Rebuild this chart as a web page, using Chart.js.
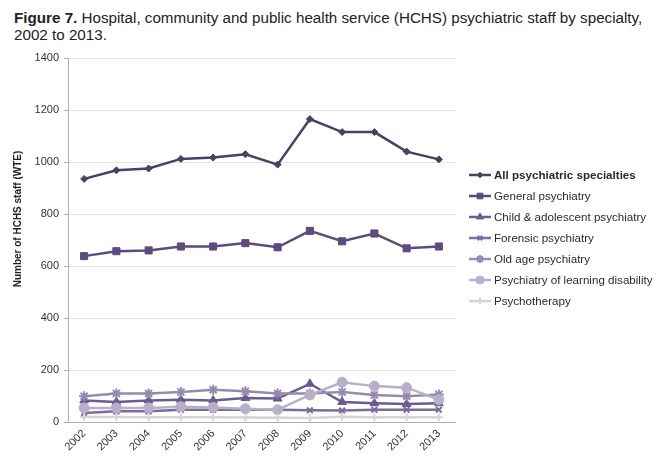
<!DOCTYPE html>
<html lang="en">
<head>
<meta charset="UTF-8">
<title>Figure 7</title>
<script src="https://cdn.jsdelivr.net/npm/chart.js"></script>
<style>
    body { margin: 0; background: #fff; }
    #wrap { position: relative; width: 660px; height: 464px; }
    #titulo {
        position: absolute;
        left: 14px;
        top: 9px;
        width: 640px;
        font-family: "Liberation Sans", Arial, sans-serif;
        font-size: 15.2px;
        line-height: 17px;
        color: #222;
    }
    canvas { position: absolute; left: 0; top: 0; }
</style>
</head>
<body>
<div id="wrap">
    <div id="titulo"><b>Figure 7.</b> Hospital, community and public health service (HCHS) psychiatric staff by specialty, 2002 to 2013.</div>
    <canvas id="grafico" width="660" height="464"></canvas>
</div>
<script>
const years = ['2002', '2003', '2004', '2005', '2006', '2007', '2008', '2009', '2010', '2011', '2012', '2013'];
const seriesNames = [
    'All psychiatric specialties',
    'General psychiatry',
    'Child & adolescent psychiatry',
    'Forensic psychiatry',
    'Old age psychiatry',
    'Psychiatry of learning disability',
    'Psychotherapy'
];
const allPsych     = [935, 968, 975, 1012, 1017, 1030, 990, 1165, 1115, 1115, 1040, 1010];
const general      = [638, 657, 660, 675, 675, 688, 672, 735, 695, 725, 668, 675];
const childAdol    = [83, 77, 83, 86, 83, 92, 90, 147, 77, 72, 69, 72];
const forensic     = [35, 41, 41, 47, 47, 47, 47, 45, 44, 47, 47, 47];
const oldAge       = [99, 110, 110, 115, 124, 118, 110, 110, 115, 104, 99, 106];
const learningDis  = [54, 54, 54, 59, 56, 51, 47, 104, 153, 138, 132, 86];
const psychotherapy = [19, 19, 18, 18, 18, 17, 16, 15, 20, 18, 18, 18];
const yTicks = [0, 200, 400, 600, 800, 1000, 1200, 1400];
const yTitle = 'Number of HCHS staff (WTE)';

const valores = [allPsych, general, childAdol, forensic, oldAge, learningDis, psychotherapy];
const colores = ['#4b3f64', '#5c4b7c', '#6b5b90', '#7b6d9b', '#958cad', '#b7b0c8', '#d6d2de'];
const marcas = ['rectRot', 'rect', 'triangle', 'crossRot', 'star', 'circle', 'cross'];
const radios = [3.5, 5, 5, 4, 5, 5, 4];

const fuente = '"Liberation Sans", Arial, sans-serif';

const datasets = valores.map((v, i) => ({
    label: seriesNames[i],
    data: v,
    borderColor: colores[i],
    backgroundColor: colores[i],
    borderWidth: 2.5,
    pointStyle: marcas[i],
    pointRadius: radios[i],
    pointBorderWidth: (marcas[i] === 'crossRot' || marcas[i] === 'star' || marcas[i] === 'cross') ? 2 : 1,
    tension: 0
})).reverse();

// leyenda y título del eje dibujados a mano
const extras = {
    id: 'extras',
    afterDraw(chart) {
        const ctx = chart.ctx;
        const x0 = 469, y0 = 175, paso = 21;
        seriesNames.forEach((nombre, i) => {
            const y = y0 + i * paso;
            ctx.save();
            ctx.strokeStyle = colores[i];
            ctx.lineWidth = 2.5;
            ctx.beginPath();
            ctx.moveTo(x0, y);
            ctx.lineTo(x0 + 22, y);
            ctx.stroke();
            ctx.fillStyle = colores[i];
            ctx.lineWidth = (marcas[i] === 'crossRot' || marcas[i] === 'star' || marcas[i] === 'cross') ? 2 : 1;
            Chart.helpers.drawPoint(ctx, { pointStyle: marcas[i], radius: radios[i] * 0.8, borderWidth: 1 }, x0 + 11, y);
            ctx.fillStyle = '#2a2a2a';
            ctx.font = (i === 0 ? 'bold ' : '') + '11.6px ' + fuente;
            ctx.textBaseline = 'middle';
            ctx.fillText(nombre, x0 + 25, y + 0.5);
            ctx.restore();
        });

        ctx.save();
        ctx.translate(18, 219);
        ctx.rotate(-Math.PI / 2);
        ctx.fillStyle = '#222';
        ctx.font = 'bold 10px ' + fuente;
        ctx.textAlign = 'center';
        ctx.textBaseline = 'middle';
        ctx.fillText(yTitle, 0, 0);
        ctx.restore();
    }
};

new Chart(document.getElementById('grafico'), {
    type: 'line',
    data: { labels: years, datasets: datasets },
    plugins: [extras],
    options: {
        responsive: false,
        animation: false,
        layout: { padding: { top: 58, right: 205, left: 0, bottom: 0 } },
        plugins: {
            legend: { display: false },
            tooltip: { enabled: false }
        },
        scales: {
            x: {
                offset: true,
                grid: { display: false, drawOnChartArea: false, tickLength: 4 },
                border: { color: '#b0b0b0', width: 1 },
                ticks: {
                    color: '#333',
                    font: { family: fuente, size: 11 },
                    maxRotation: 45,
                    minRotation: 45,
                    padding: 1,
                    autoSkip: false
                },
                afterFit(scale) { scale.height = 42; }
            },
            y: {
                min: 0,
                max: 1400,
                afterBuildTicks(scale) { scale.ticks = yTicks.map(v => ({ value: v })); },
                grid: { color: '#e6e6e6', tickLength: 4, tickColor: '#b0b0b0' },
                border: { color: '#b0b0b0', width: 1 },
                ticks: {
                    color: '#333',
                    font: { family: fuente, size: 11 },
                    padding: 5,
                    callback: v => String(v)
                },
                afterFit(scale) { scale.width = 68; }
            }
        }
    }
});
</script>
</body>
</html>
